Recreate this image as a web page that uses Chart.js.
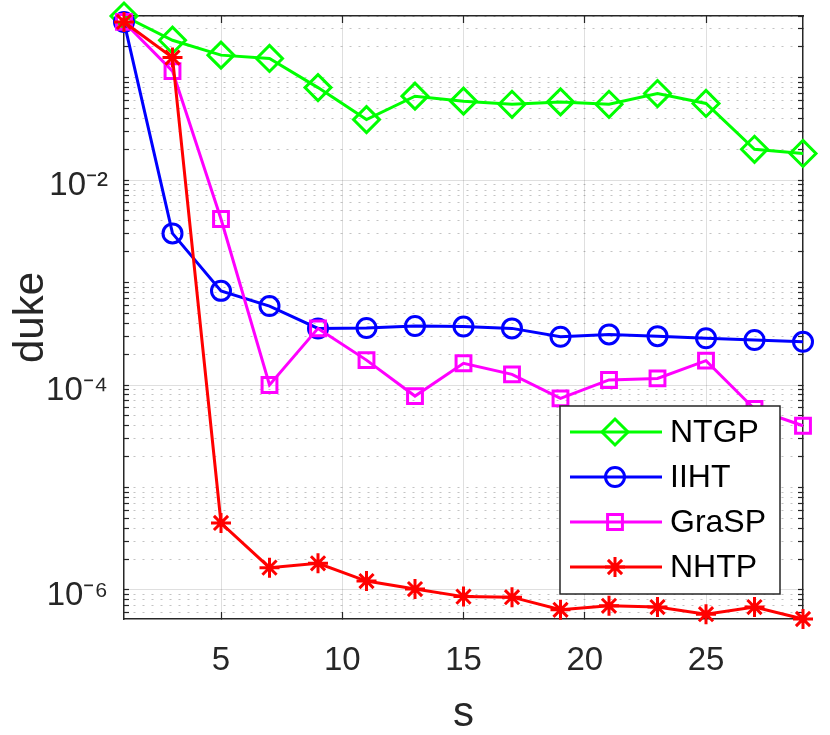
<!DOCTYPE html>
<html>
<head>
<meta charset="utf-8">
<script src="https://cdn.jsdelivr.net/npm/chart.js@4.4.1/dist/chart.umd.min.js"></script>
<style>
  html, body { margin: 0; padding: 0; background: #fff; }
  canvas { display: block; }
</style>
</head>
<body>
<canvas id="chart" width="830" height="735"></canvas>
<script>
const sValues = [1, 3, 5, 7, 9, 11, 13, 15, 17, 19, 21, 23, 25, 27, 29];

const ntgp  = [0.40, 0.232, 0.166, 0.154, 0.080, 0.039, 0.066, 0.059, 0.055, 0.058, 0.055, 0.070, 0.056, 0.020, 0.0182];
const iiht  = [0.35, 0.00302, 8.3e-4, 5.9e-4, 3.57e-4, 3.6e-4, 3.77e-4, 3.72e-4, 3.57e-4, 2.96e-4, 3.12e-4, 3.0e-4, 2.86e-4, 2.75e-4, 2.64e-4];
const grasp = [0.35, 0.116, 4.17e-3, 1.0e-4, 3.57e-4, 1.75e-4, 7.8e-5, 1.63e-4, 1.27e-4, 7.4e-5, 1.12e-4, 1.16e-4, 1.73e-4, 5.83e-5, 4.0e-5];
const nhtp  = [0.35, 0.157, 4.5e-6, 1.65e-6, 1.82e-6, 1.22e-6, 1.02e-6, 8.6e-7, 8.5e-7, 6.4e-7, 7.0e-7, 6.8e-7, 5.8e-7, 6.8e-7, 5.2e-7];

const xTicks = [5, 10, 15, 20, 25];
const yTickValues = [1e-6, 1e-4, 1e-2];
const yTickLabels = ['10\u207B\u2076', '10\u207B\u2074', '10\u207B\u00B2'];
const yMin = 5.2e-7, yMax = 0.40;

const axisColor = '#262626';
const majorGrid = 'rgba(38,38,38,0.15)';
const minorGrid = 'rgba(38,38,38,0.28)';
const fontFamily = '"Liberation Sans", Arial, Helvetica, sans-serif';

function labelIndex(v) {
  return yTickValues.findIndex(t => Math.abs(v - t) / t < 1e-6);
}

// every 1..9 x 10^k inside the axis range, for the minor grid
function logGridValues(lo, hi) {
  const out = [];
  for (let k = Math.floor(Math.log10(lo)); k <= Math.ceil(Math.log10(hi)); k++) {
    for (let m = 1; m <= 9; m++) {
      const v = m * Math.pow(10, k);
      if (v >= lo && v <= hi) out.push(v);
    }
  }
  return out;
}

function series(label, values, color, style, radius, order) {
  return {
    label,
    data: sValues.map((s, i) => ({ x: s, y: values[i] })),
    borderColor: color,
    borderWidth: 3,
    pointStyle: style,
    pointRadius: radius,
    pointHoverRadius: radius,
    pointBorderColor: color,
    pointBackgroundColor: 'rgba(0,0,0,0)',
    pointBorderWidth: 3,
    tension: 0,
    clip: false,
    order
  };
}

const datasets = [
  series('NTGP', ntgp, '#00ff00', 'rectRot', 13, 3),
  series('IIHT', iiht, '#0000ff', 'circle', 9.5, 2),
  series('GraSP', grasp, '#ff00ff', 'rect', 10.5, 1),
  series('NHTP', nhtp, '#ff0000', 'star', 10, 0)
];

const boxLegend = {
  id: 'boxLegend',
  afterDraw(chart) {
    const ctx = chart.ctx;
    const ca = chart.chartArea;
    const w = 220, h = 188;
    const left = ca.right - 23 - w;
    const top = ca.bottom - 25 - h;
    ctx.save();
    ctx.fillStyle = '#fff';
    ctx.fillRect(left, top, w, h);
    ctx.strokeStyle = axisColor;
    ctx.lineWidth = 1.5;
    ctx.strokeRect(left, top, w, h);
    ctx.font = '32px ' + fontFamily;
    ctx.textBaseline = 'middle';
    datasets.forEach((ds, i) => {
      const y = top + 26 + i * 45;
      ctx.strokeStyle = ds.borderColor;
      ctx.lineWidth = ds.borderWidth;
      ctx.beginPath();
      ctx.moveTo(left + 10, y);
      ctx.lineTo(left + 102, y);
      ctx.stroke();
      ctx.fillStyle = 'rgba(0,0,0,0)';
      ctx.lineWidth = ds.pointBorderWidth;
      Chart.helpers.drawPoint(ctx, {
        pointStyle: ds.pointStyle,
        radius: ds.pointRadius,
        rotation: 0,
        borderWidth: ds.pointBorderWidth
      }, left + 55, y);
      ctx.fillStyle = '#000';
      ctx.fillText(ds.label, left + 110, y + 1);
    });
    ctx.restore();
  }
};

// frame axes on the top and right: no labels, ticks pointing inward
const frameX = {
  type: 'linear',
  position: 'top',
  min: 1,
  max: 29,
  afterBuildTicks: s => { s.ticks = xTicks.map(v => ({ value: v })); },
  afterFit: s => { s.height = 0; s.paddingLeft = 0; s.paddingRight = 0; },
  ticks: { display: false },
  grid: { drawOnChartArea: false, tickLength: -7, tickColor: axisColor, tickWidth: 1.2 },
  border: { color: axisColor, width: 1.5 }
};

const frameY = {
  type: 'logarithmic',
  position: 'right',
  min: yMin,
  max: yMax,
  afterBuildTicks: s => { s.ticks = logGridValues(yMin, yMax).map(v => ({ value: v })); },
  afterFit: s => { s.width = 0; s.paddingTop = 0; s.paddingBottom = 0; },
  ticks: { display: false, autoSkip: false },
  grid: { drawOnChartArea: false, tickLength: -5, tickColor: axisColor, tickWidth: 1.2 },
  border: { color: axisColor, width: 1.5 }
};

new Chart(document.getElementById('chart'), {
  type: 'line',
  data: { datasets },
  plugins: [boxLegend],
  options: {
    responsive: false,
    animation: false,
    layout: { padding: { top: 16, right: 27, left: 0, bottom: 0 } },
    plugins: {
      legend: { display: false },
      tooltip: { enabled: false }
    },
    scales: {
      x: {
        type: 'linear',
        min: 1,
        max: 29,
        afterBuildTicks: s => { s.ticks = xTicks.map(v => ({ value: v })); },
        afterFit: s => { s.height = 116; s.paddingLeft = 0; s.paddingRight = 0; },
        ticks: {
          autoSkip: false,
          maxRotation: 0,
          padding: 29,
          color: axisColor,
          font: { family: fontFamily, size: 33 }
        },
        grid: { color: majorGrid, lineWidth: 1, tickLength: -7, tickColor: axisColor, tickWidth: 1.2 },
        border: { color: axisColor, width: 1.5 },
        title: {
          display: true,
          text: 's',
          color: axisColor,
          font: { family: fontFamily, size: 42, lineHeight: 1 },
          padding: { top: 0, bottom: 0 }
        }
      },
      x2: frameX,
      y: {
        type: 'logarithmic',
        min: yMin,
        max: yMax,
        afterBuildTicks: s => { s.ticks = logGridValues(yMin, yMax).map(v => ({ value: v })); },
        afterFit: s => { s.width = 124; s.paddingTop = 0; s.paddingBottom = 0; },
        ticks: {
          autoSkip: false,
          padding: 21,
          labelOffset: 6,
          color: axisColor,
          font: { family: fontFamily, size: 33 },
          callback: v => {
            const i = labelIndex(v);
            return i >= 0 ? yTickLabels[i] : '';
          }
        },
        grid: {
          tickLength: -5,
          tickColor: axisColor,
          tickWidth: 1.2,
          lineWidth: 1,
          color: c => (labelIndex(c.tick.value) >= 0 ? majorGrid : minorGrid)
        },
        border: {
          color: axisColor,
          width: 1.5,
          dash: c => (c.tick && labelIndex(c.tick.value) >= 0 ? [] : [2, 7])
        },
        title: {
          display: true,
          text: 'duke',
          color: axisColor,
          font: { family: fontFamily, size: 42 },
          padding: { top: 6, bottom: 0 }
        }
      },
      y2: frameY
    }
  }
});
</script>
</body>
</html>
